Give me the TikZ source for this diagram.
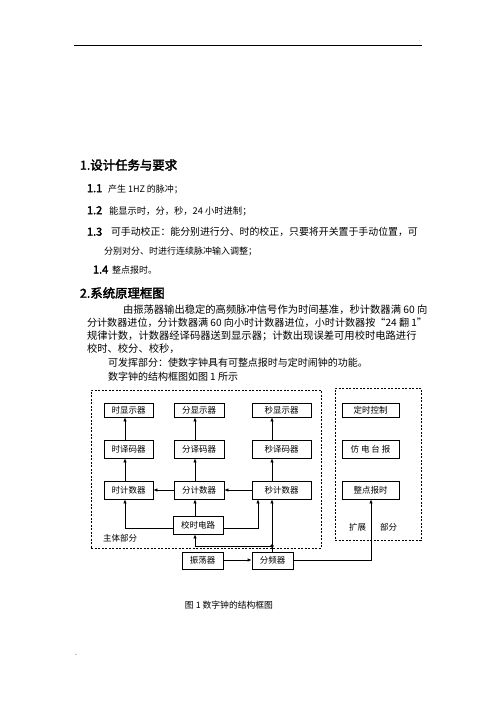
\documentclass[tikz,border=0pt]{standalone}
\usepackage{fontspec}
\setmainfont{Liberation Serif}
\newfontfamily\cjk{Noto Sans CJK SC}
\newfontfamily\cjkb[FakeBold=2.5]{Noto Sans CJK SC}
\usetikzlibrary{arrows.meta,calc}
\newcommand{\itemlab}[2]{\makebox[#1][l]{\fontsize{11}{12}\cjkb #2}}
\tikzset{
  txt/.style={anchor=west,inner sep=0pt,outer sep=0pt},
  blk/.style={draw,line width=0.8pt,inner sep=0pt,minimum width=49pt,minimum height=18pt,font=\fontsize{8.5}{10}\cjk},
  arr/.style={line width=0.8pt,-{Latex[length=4pt,width=3.5pt]}},
  ln/.style={line width=0.8pt},
  grp/.style={draw,dashed,line width=0.7pt,dash pattern=on 2pt off 1.5pt},
}
\begin{document}
\begin{tikzpicture}[x=1pt,y=-1pt]
\useasboundingbox (0,0) rectangle (496,702);
% header
\coordinate (hl) at (74,45);
\coordinate (hr) at (422,45);
\draw[line width=0.9pt] (hl) -- (hr);
\node[txt,font=\fontsize{4}{5}\selectfont] (hdot) at (419,41) {.};
\node[txt,font=\fontsize{5}{6}\selectfont] (fdash) at (75,656) {-};
% section 1
\node[txt,font=\fontsize{12.4}{14}\cjkb] (t1) at (80,165) {1.设计任务与要求};
\node[txt,font=\fontsize{9}{11}\cjk] (i1) at (87,189) {\itemlab{21pt}{1.1}产生 1HZ 的脉冲；};
\node[txt,font=\fontsize{9.3}{11}\cjk] (i2) at (87,211) {\itemlab{22pt}{1.2}能显示时，分，秒，24 小时进制；};
\node[txt,font=\fontsize{9.9}{11}\cjk] (i3) at (87,232) {\itemlab{24pt}{1.3}可手动校正：能分别进行分、时的校正，只要将开关置于手动位置，可};
\node[txt,font=\fontsize{9}{11}\cjk] (i3b) at (104,251) {分别对分、时进行连续脉冲输入调整；};
\node[txt,font=\fontsize{9}{11}\cjk] (i4) at (93,270) {\itemlab{19pt}{1.4}整点报时。};
% section 2
\node[txt,font=\fontsize{12.4}{14}\cjkb] (t2) at (80,293) {2.系统原理框图};
\node[txt,font=\fontsize{10.3}{12}\cjk] (p1) at (123,310) {由振荡器输出稳定的高频脉冲信号作为时间基准，秒计数器满 60 向};
\node[txt,font=\fontsize{10.1}{12}\cjk] (p2) at (87,323) {分计数器进位，分计数器满 60 向小时计数器进位，小时计数器按“24 翻 1”};
\node[txt,font=\fontsize{10.3}{12}\cjk] (p3) at (87,336) {规律计数，计数器经译码器送到显示器；计数出现误差可用校时电路进行};
\node[txt,font=\fontsize{10.3}{12}\cjk] (p4) at (87,349) {校时、校分、校秒，};
\node[txt,font=\fontsize{10}{12}\cjk] (p5) at (108,363) {可发挥部分：使数字钟具有可整点报时与定时闹钟的功能。};
\node[txt,font=\fontsize{10}{12}\cjk] (p6) at (108,377) {数字钟的结构框图如图 1 所示};
% group frames
\node[grp,inner sep=0pt,minimum width=230pt,minimum height=158pt] (main) at (206,469) {};
\node[grp,inner sep=0pt,minimum width=86pt,minimum height=152pt] (ext) at (378,464) {};
% blocks
\node[blk,minimum height=14pt] (sx) at (128.5,410) {时显示器};
\node[blk,minimum height=14pt,minimum width=50pt] (fx) at (199,410) {分显示器};
\node[blk,minimum height=14pt,minimum width=59pt] (mx) at (281.5,410) {秒显示器};
\node[blk] (sy) at (128.5,449) {时译码器};
\node[blk,minimum width=50pt] (fy) at (199,449) {分译码器};
\node[blk,minimum width=59pt] (my) at (281.5,449) {秒译码器};
\node[blk] (sj) at (128.5,490) {时计数器};
\node[blk,minimum width=50pt] (fj) at (199,490) {分计数器};
\node[blk,minimum width=59pt] (mj) at (281.5,490) {秒计数器};
\node[blk,minimum width=50pt] (jiao) at (198,525) {校时电路};
\node[blk,minimum width=41pt,minimum height=17pt] (zd) at (202.5,560.5) {振荡器};
\node[blk,minimum width=41pt,minimum height=17pt] (fp) at (272.5,560.5) {分频器};
\node[blk,minimum width=57pt,minimum height=14pt] (dk) at (370.5,410) {定时控制};
\node[blk,minimum width=57pt] (fd) at (370.5,449) {仿 电 台 报};
\node[blk,minimum width=57pt] (zb) at (370.5,490) {整点报时};
% labels
\node[txt,font=\fontsize{8.5}{10}\cjk] (lmain) at (103,538) {主体部分};
\node[txt,font=\fontsize{8.5}{10}\cjk] (lext) at (349,527) {扩展\hspace{14pt}部分};
\node[font=\fontsize{8.8}{10}\cjk,inner sep=0pt] (cap) at (229,605) {图 1 数字钟的结构框图};
% column coordinates
\coordinate (c1) at (125,0);
\coordinate (c2) at (195,0);
\coordinate (c3) at (272,0);
\coordinate (c4) at (258,0);
\coordinate (c5) at (371,0);
\coordinate (rl) at (0,528);
\coordinate (rd) at (0,546);
\coordinate (rf) at (0,560);
% vertical arrows
\draw[arr] (sj.north -| c1) -- (sy.south -| c1);
\draw[arr] (sy.north -| c1) -- (sx.south -| c1);
\draw[arr] (fj.north -| c2) -- (fy.south -| c2);
\draw[arr] (fy.north -| c2) -- (fx.south -| c2);
\draw[arr] (mj.north -| c3) -- (my.south -| c3);
\draw[arr] (my.north -| c3) -- (mx.south -| c3);
% carries
\draw[arr] (mj.west) -- (fj.east);
\draw[arr] (fj.west) -- (sj.east);
% calibration
\draw[arr] (jiao.west |- rl) -| (sj.south -| c1);
\draw[arr] (jiao.east |- rl) -| (mj.south -| c4);
\draw[arr] (jiao.north -| c2) -- (fj.south -| c2);
% divider
\coordinate (dot) at (c3 |- rd);
\draw[arr] (fp.north -| c3) -- (mj.south -| c3);
\draw[arr] (dot) -| (jiao.south -| c2);
\fill (dot) circle (1.8pt);
\draw[arr] (zd.east |- rf) -- (fp.west |- rf);
\draw[arr] (fp.east |- rf) -| (zb.south -| c5);
\end{tikzpicture}
\end{document}
